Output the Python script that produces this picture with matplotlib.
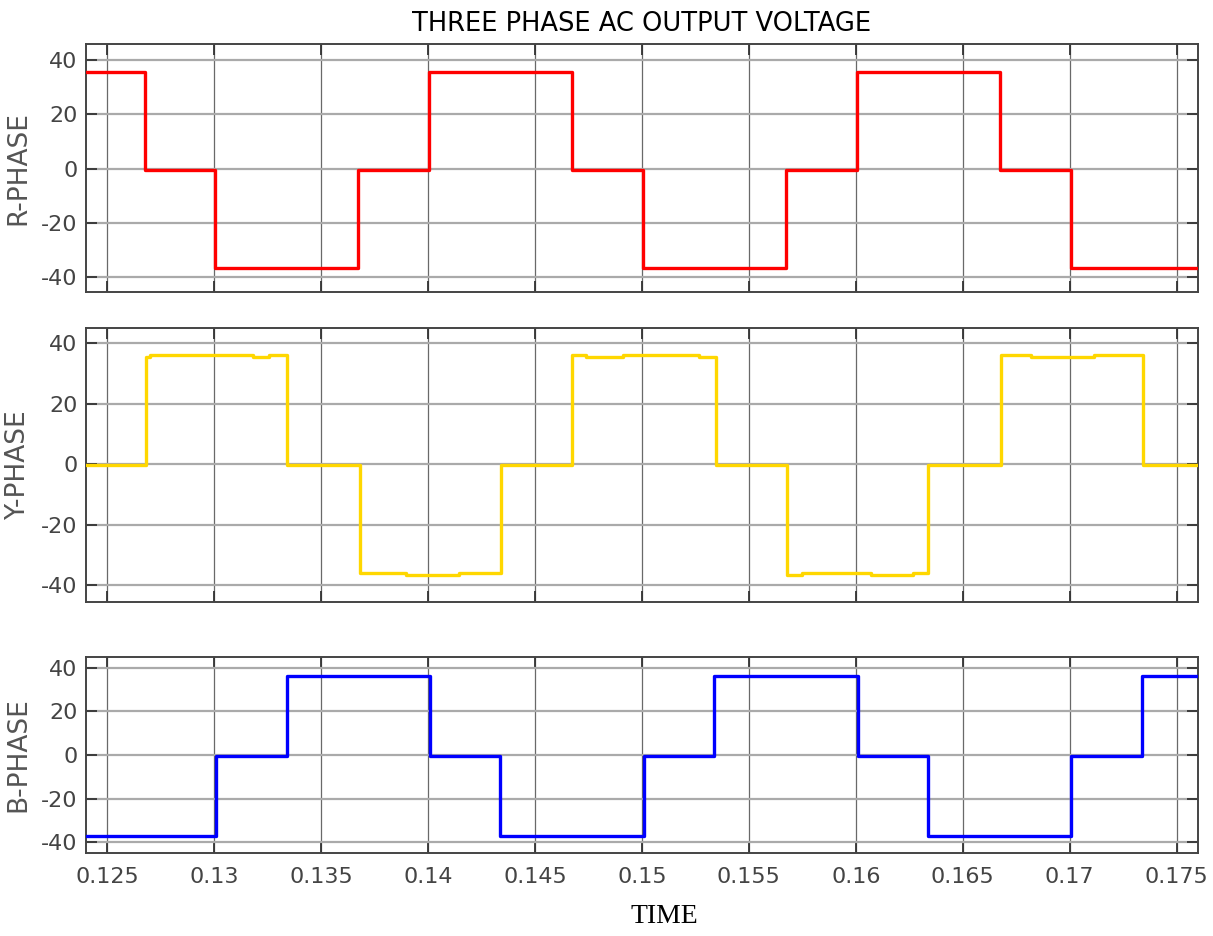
import matplotlib
matplotlib.use("Agg")
import matplotlib.pyplot as plt
from matplotlib.ticker import FixedLocator, FixedFormatter

plt.rcParams['axes.unicode_minus'] = False

# time breakpoints (s) and level that holds from each breakpoint on
r_time = [0.124, 0.12675, 0.13005, 0.13672, 0.14005, 0.14672, 0.15005, 0.15672,
          0.16005, 0.16672, 0.17005, 0.176]
r_volt = [35.7, -0.4, -36.6, -0.4, 35.7, -0.4, -36.6, -0.4, 35.7, -0.4, -36.6, -36.6]

y_time = [0.124, 0.12679, 0.12700, 0.13183, 0.13257, 0.13341, 0.13681, 0.13895,
          0.14146, 0.14339, 0.14674, 0.14736, 0.14909, 0.15265, 0.15344, 0.15677,
          0.15746, 0.16070, 0.16267, 0.16337, 0.16677, 0.16820, 0.17112, 0.17341, 0.176]
y_volt = [-0.2, 35.5, 36.2, 35.5, 36.2, -0.2, -35.9, -36.8, -35.9, -0.2, 36.2, 35.5,
          36.2, 35.5, -0.2, -36.8, -35.9, -36.8, -35.9, -0.2, 36.2, 35.5, 36.2, -0.2, -0.2]

b_time = [0.124, 0.13008, 0.13338, 0.14008, 0.14338, 0.15008, 0.15338, 0.16008,
          0.16338, 0.17008, 0.17338, 0.176]
b_volt = [-37.2, -0.6, 36.1, -0.6, -37.2, -0.6, 36.1, -0.6, -37.2, -0.6, 36.1, 36.1]

x_ticks = [0.125, 0.13, 0.135, 0.14, 0.145, 0.15, 0.155, 0.16, 0.165, 0.17, 0.175]
x_labels = ['0.125', '0.13', '0.135', '0.14', '0.145', '0.15', '0.155', '0.16',
            '0.165', '0.17', '0.175']
y_ticks = [-40, -20, 0, 20, 40]

fig = plt.figure(figsize=(12.13, 9.36), dpi=100)

panels = [
    ([0.0709, 0.688, 0.9167, 0.265], r_time, r_volt, '#ff0000', 'R-PHASE', (-45.5, 45.9)),
    ([0.0709, 0.3568, 0.9167, 0.2927], y_time, y_volt, '#ffd700', 'Y-PHASE', (-45.6, 45.0)),
    ([0.0709, 0.0887, 0.9167, 0.2094], b_time, b_volt, '#0000ff', 'B-PHASE', (-45.0, 45.0)),
]

axes = []
for rect, t, v, col, lab, ylim in panels:
    ax = fig.add_axes(rect)
    ax.plot(t, v, drawstyle='steps-post', color=col, lw=2.4, zorder=3)
    ax.set_xlim(0.124, 0.176)
    ax.set_ylim(*ylim)
    ax.xaxis.set_major_locator(FixedLocator(x_ticks))
    ax.set_yticks(y_ticks)
    ax.grid(axis='x', color='#444444', lw=0.9, alpha=0.8)
    ax.grid(axis='y', color='#aaaaaa', lw=1.6)
    ax.tick_params(direction='in', length=8, width=1.3, colors='#333333',
                   top=True, right=True, labelsize=16, labelcolor='#444444')
    ax.tick_params(axis='y', pad=6)
    ax.tick_params(axis='x', pad=10)
    for s in ax.spines.values():
        s.set_color('#444444')
        s.set_linewidth(1.4)
    ax.set_ylabel(lab, fontsize=19, color='#555555')
    ax.yaxis.set_label_coords(-0.049, 0.5)
    axes.append(ax)

axes[0].tick_params(labelbottom=False)
axes[1].tick_params(labelbottom=False)
axes[2].xaxis.set_major_formatter(FixedFormatter(x_labels))

axes[0].set_title('THREE PHASE AC OUTPUT VOLTAGE', fontsize=18.5, color='black', pad=9)
fig.text(0.548, 0.008, 'TIME', family='Liberation Serif', fontsize=20,
         ha='center', va='bottom', color='black')

fig.savefig('out.png', dpi=100)
